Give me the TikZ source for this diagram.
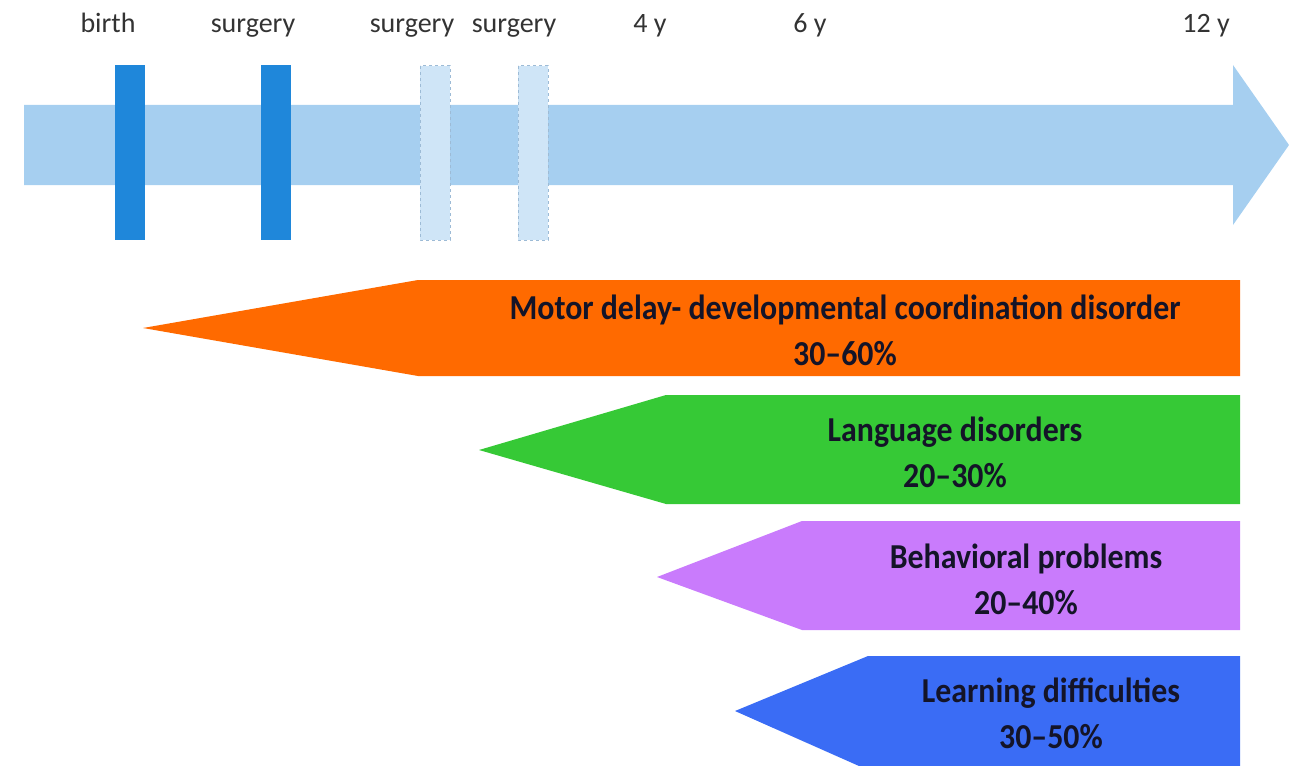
\documentclass[tikz,border=0pt]{standalone}
\usepackage{fontspec}
\setmainfont{Carlito}
\newfontfamily\bandfont[Ligatures=TeX, FakeStretch=0.91]{Carlito}

\definecolor{timeline}{HTML}{A6CFF0}
\definecolor{barblue}{HTML}{1F87DA}
\definecolor{barlight}{HTML}{CFE5F7}
\definecolor{barline}{HTML}{9DBBD6}
\definecolor{motor}{HTML}{FF6A00}
\definecolor{language}{HTML}{36C936}
\definecolor{behavior}{HTML}{C97BFC}
\definecolor{learning}{HTML}{3A6CF5}
\definecolor{labeltext}{HTML}{141428}

\tikzset{
  age/.style={font=\fontsize{28}{32}\selectfont, text=black!80, anchor=base, inner sep=0pt},
  band/.style={font=\bandfont\bfseries\fontsize{35}{46}\selectfont, text=labeltext, align=center, inner sep=0pt},
}

\begin{document}
\begin{tikzpicture}[x=1pt, y=-1pt]
    \useasboundingbox (0,0) rectangle (1289,765);

    \fill[timeline] (24,105) -- (1233,105) -- (1233,65) -- (1289,145) -- (1233,225) -- (1233,185) -- (24,185) -- cycle;

    \fill[barblue] (115,65) rectangle (145,240);
    \fill[barblue] (261,65) rectangle (291,240);
    \filldraw[barlight, draw=barline, dashed, line width=1pt] (420,66) rectangle (450,240);
    \filldraw[barlight, draw=barline, dashed, line width=1pt] (518,66) rectangle (548,240);

    \node[age] (birth) at (108,33) {birth};
    \node[age] (surgA) at (253,33) {surgery};
    \node[age] (surgB) at (412,33) {surgery};
    \node[age] (surgC) at (514,33) {surgery};
    \node[age] (four) at (650,33) {4 y};
    \node[age] (six) at (810,33) {6 y};
    \node[age] (twelve) at (1206,33) {12 y};

    \fill[motor] (143,328) -- (418,280) -- (1240,280) -- (1240,376) -- (418,376) -- cycle;
    \fill[language] (479,450) -- (666,395) -- (1240,395) -- (1240,504) -- (666,504) -- cycle;
    \fill[behavior] (657,577) -- (802,521) -- (1240,521) -- (1240,630) -- (802,630) -- cycle;
    \fill[learning] (735,711) -- (868,656) -- (1240,656) -- (1240,770) -- (868,770) -- cycle;

    \node[band] (motorlbl) at (845,330) {Motor delay- developmental coordination disorder\\30--60\%};
    \node[band] (langlbl) at (955,452) {Language disorders\\20--30\%};
    \node[band] (behavlbl) at (1026,579) {Behavioral problems\\20--40\%};
    \node[band] (learnlbl) at (1051,713) {Learning difficulties\\30--50\%};
\end{tikzpicture}
\end{document}
